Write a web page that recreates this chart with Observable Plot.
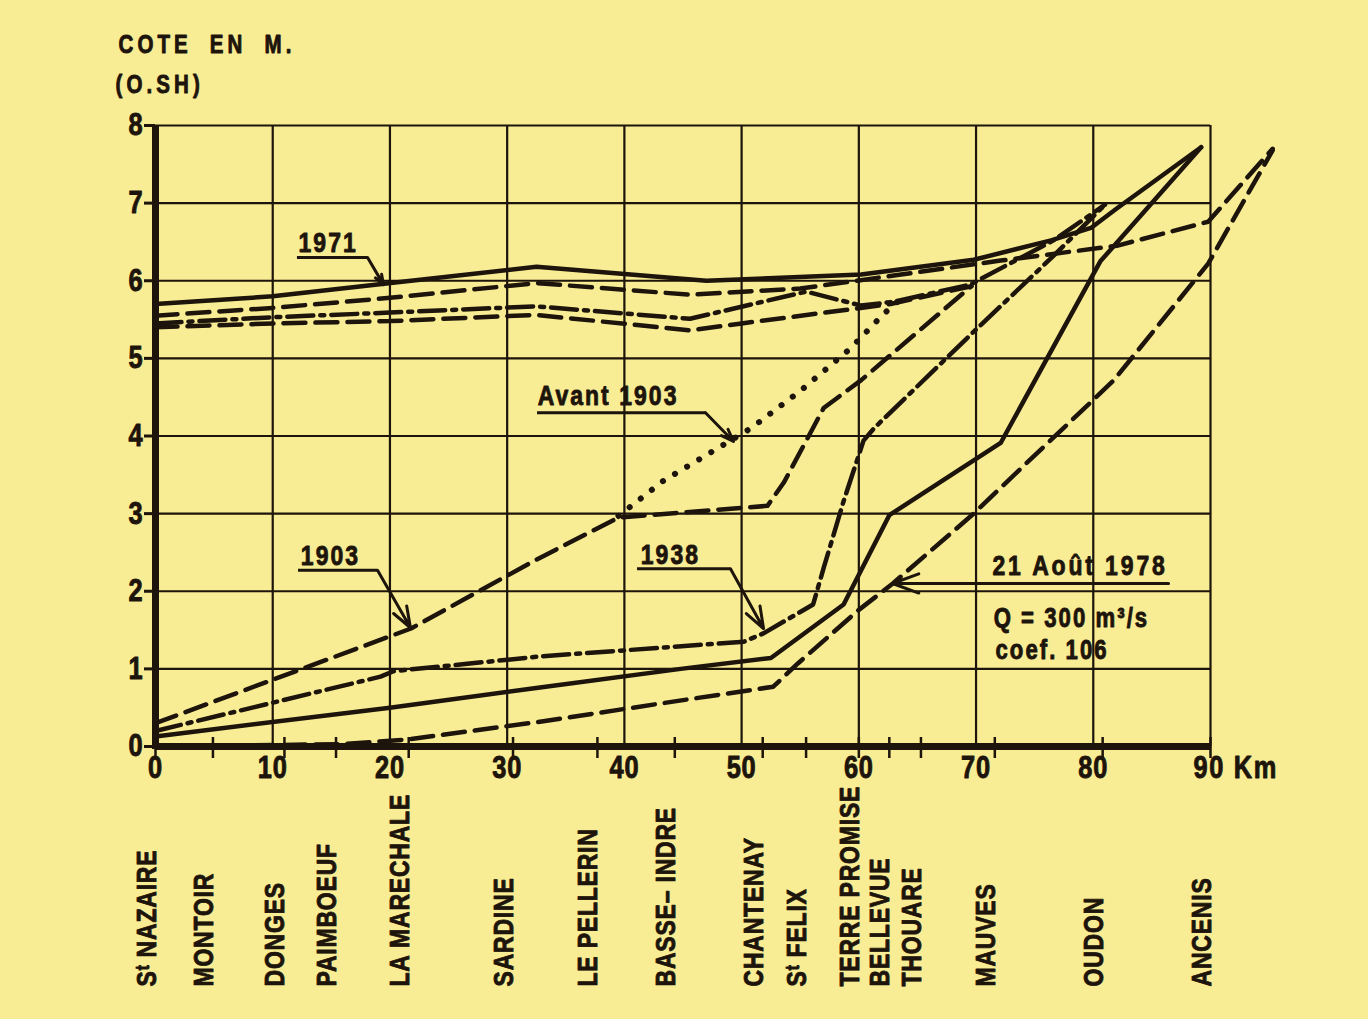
<!DOCTYPE html>
<html><head><meta charset="utf-8">
<script src="https://cdn.jsdelivr.net/npm/d3@7"></script>
<script src="https://cdn.jsdelivr.net/npm/@observablehq/plot@0.6"></script>
<style>
html,body{margin:0;padding:0;background:#f8ec94;}
#chart svg{display:block}
</style></head><body><div id="chart"></div>
<script>
// ---- axes ----
const xTicks = [0,10,20,30,40,50,60,70,80];
const xEndTick = [90];
const xEndLabel = "90 Km";
const yTicks = [0,1,2,3,4,5,6,7,8];
const stationNames = ["Sᵗ NAZAIRE","MONTOIR","DONGES","PAIMBOEUF","LA MARECHALE","SARDINE","LE PELLERIN","BASSE– INDRE","CHANTENAY","Sᵗ FELIX","TERRE PROMISE","BELLEVUE","THOUARE","MAUVES","OUDON","ANCENIS"];
const stationKm = [0,4.9,11.0,15.4,21.6,30.5,37.7,44.3,51.8,55.5,60,62.6,65.3,71.6,80.8,90];
const titleLines = ["COTE EN M.","(O.SH)"];

// ---- series: [km, cote m] ----
const hw1971 = [[0,5.7],[10,5.8],[19.5,5.96],[32.5,6.18],[47,6.0],[60.2,6.08],[69.8,6.27],[76.4,6.52],[79.8,6.68],[82,6.93],[89.2,7.72]];
const lw1971 = [[0,0.13],[20,0.5],[32.8,0.76],[44.8,1.0],[52.5,1.14],[58.7,1.83],[62.6,2.98],[72.1,3.91],[80.6,6.25],[89.2,7.72]];
const hw1978 = [[0,5.55],[10,5.65],[20,5.78],[32.5,5.97],[45.6,5.82],[55,5.9],[63.6,6.08],[72.1,6.26],[82,6.45],[89.8,6.76],[95.3,7.7]];
const lw1978 = [[0,0],[15.8,0.03],[21.5,0.09],[32.8,0.32],[46,0.62],[52.7,0.77],[54.8,1.07],[60,1.76],[62.9,2.1],[69.8,3.0],[72.7,3.42],[81.7,4.71],[89.8,6.22],[95.3,7.68]];
const hw1903 = [[0,5.4],[10,5.45],[20,5.48],[32.5,5.56],[45.6,5.36],[50,5.45],[62.7,5.7],[69.6,5.93]];
const lw1903 = [[0,0.3],[21.8,1.52],[32.4,2.4],[39.5,2.95],[52.2,3.1],[53.6,3.4],[57,4.36],[60.2,4.72],[69.6,5.93]];
const hw1938 = [[0,5.45],[10,5.53],[20,5.59],[32.5,5.67],[45.6,5.51],[55.5,5.86],[60.2,5.68],[63,5.73],[69.5,5.95],[76.6,6.52],[81,6.98]];
const lw1938 = [[0,0.2],[19.2,0.9],[20.3,0.97],[32.8,1.16],[50.2,1.35],[51.9,1.46],[56.1,1.83],[57,2.3],[58.7,3.16],[60.4,3.94],[61.3,4.1],[69.5,5.3],[76.6,6.32],[81,6.98]];
const lwAvant1903 = [[39.5,2.97],[43.3,3.42],[50.8,4.1],[55,4.58],[59.3,5.13],[62.1,5.57],[63.3,5.73]];

// ---- annotations (data units) ----
const annotText = ["1971","Avant 1903","1903","1938","21 Août 1978"];
const annotKm = [12.2,32.6,12.4,41.4,71.4];
const annotM = [6.49,4.51,2.46,2.47,2.33];
const underlines = [[12.11,18.09,6.30],[32.59,46.92,4.30],[12.2,18.94,2.27],[41.12,49.05,2.29]];
const arrows = [[18.09,6.30,19.45,5.95],[46.92,4.30,49.31,3.93],[18.94,2.27,21.75,1.53],[49.05,2.29,51.87,1.52],[86.42,2.10,62.87,2.10]];
const noteText = ["Q = 300 m³/s","coef. 106"];
const noteKm = [71.5,71.66];
const noteM = [1.65,1.24];

const ink = "#1d140b";
const bg = "#f8ec94";
const FONT = "'Liberation Sans',Arial,sans-serif";
const toRows = pts => pts.map(([km,m]) => ({km,m}));

const solid = {stroke:ink, strokeWidth:4.5, strokeLinejoin:"round"};
const dashed = {stroke:ink, strokeWidth:4.5, strokeDasharray:"22,10", strokeLinejoin:"round"};
const dashdot = {stroke:ink, strokeWidth:4.5, strokeDasharray:"26,7,4,7", strokeLinejoin:"round"};
const dotted = {stroke:ink, strokeWidth:6, strokeDasharray:"0.1,14", strokeLinecap:"round"};

const chart = Plot.plot({
  width:1368, height:1019,
  marginLeft:155, marginRight:158, marginTop:125, marginBottom:273,
  x:{domain:[0,90], axis:null},
  y:{domain:[0,8], axis:null},
  style:{background:bg, color:ink, fontFamily:FONT, fontWeight:"bold", overflow:"visible"},
  marks:[
    Plot.ruleX(xTicks.slice(1).concat(xEndTick), {stroke:ink, strokeWidth:2.2}),
    Plot.ruleY(yTicks.slice(1), {stroke:ink, strokeWidth:2.2}),
    Plot.ruleY(yTicks, {stroke:ink, strokeWidth:3, insetLeft:-11, insetRight:1055}),
    Plot.ruleX(stationKm, {stroke:ink, strokeWidth:2.5, insetTop:612, insetBottom:-12}),
    Plot.line(toRows(hw1971), {x:"km", y:"m", ...solid}),
    Plot.line(toRows(lw1971), {x:"km", y:"m", ...solid}),
    Plot.line(toRows(hw1978), {x:"km", y:"m", ...dashed}),
    Plot.line(toRows(lw1978), {x:"km", y:"m", ...dashed}),
    Plot.line(toRows(hw1903), {x:"km", y:"m", ...dashed}),
    Plot.line(toRows(lw1903), {x:"km", y:"m", ...dashed}),
    Plot.line(toRows(hw1938), {x:"km", y:"m", ...dashdot}),
    Plot.line(toRows(lw1938), {x:"km", y:"m", ...dashdot}),
    Plot.line(toRows(lwAvant1903), {x:"km", y:"m", ...dotted}),
    Plot.ruleX([0], {stroke:ink, strokeWidth:7, insetBottom:-3}),
    Plot.ruleY([0], {stroke:ink, strokeWidth:7}),
    Plot.text(yTicks, {frameAnchor:"left", y:d=>d, text:d=>String(d), dx:-12, textAnchor:"end", fontSize:31, fill:ink}),
    Plot.text(xTicks, {x:d=>d, frameAnchor:"bottom", dy:31, text:d=>String(d), fontSize:31, fill:ink}),
    Plot.text(xEndTick, {x:d=>d, frameAnchor:"bottom", dy:31, dx:-17, text:()=>xEndLabel, textAnchor:"start", fontSize:31, fill:ink}),
    Plot.text(stationNames, {x:(d,i)=>stationKm[i], frameAnchor:"bottom", dy:240, rotate:-90, textAnchor:"start", fontSize:28, fill:ink}),
    Plot.text([titleLines[0]], {frameAnchor:"top-left", dx:-37, dy:-90, textAnchor:"start", fontSize:25, fill:ink}),
    Plot.text([titleLines[1]], {frameAnchor:"top-left", dx:-40, dy:-50, textAnchor:"start", fontSize:25, fill:ink}),
    Plot.ruleY(underlines, {y:d=>d[2], x1:d=>d[0], x2:d=>d[1], stroke:ink, strokeWidth:3}),
    Plot.arrow(arrows, {x1:d=>d[0], y1:d=>d[1], x2:d=>d[2], y2:d=>d[3], stroke:ink, strokeWidth:3, headLength:14, headAngle:40}),
    Plot.text(annotText, {x:(d,i)=>annotKm[i], y:(d,i)=>annotM[i], textAnchor:"start", fontSize:28, fill:ink}),
    Plot.text(noteText, {x:(d,i)=>noteKm[i], y:(d,i)=>noteM[i], textAnchor:"start", fontSize:27, fill:ink})
  ]
});

// condensed, heavy look: narrow each text horizontally, embolden, add letter spacing
const SX = 0.82;
d3.select(chart).selectAll("text").each(function(){
  const t = d3.select(this);
  const s = this.textContent;
  const tr = t.attr("transform") || "";
  t.attr("transform", (tr + ` scale(${SX},1)`).trim());
  t.attr("stroke", ink).attr("stroke-width", 0.9).attr("stroke-linejoin", "round");
  let ls = 1;
  if (titleLines.includes(s)) { ls = 5; t.attr("word-spacing", 10); }
  else if (stationNames.includes(s)) ls = 1;
  else if (s === "21 Août 1978") ls = 3.5;
  else if (annotText.includes(s)) ls = 2.5;
  else if (noteText.includes(s)) ls = 2.5;
  else if (s === xEndLabel) ls = 2;
  t.attr("letter-spacing", ls);
});
document.getElementById("chart").appendChild(chart);
</script></body></html>
